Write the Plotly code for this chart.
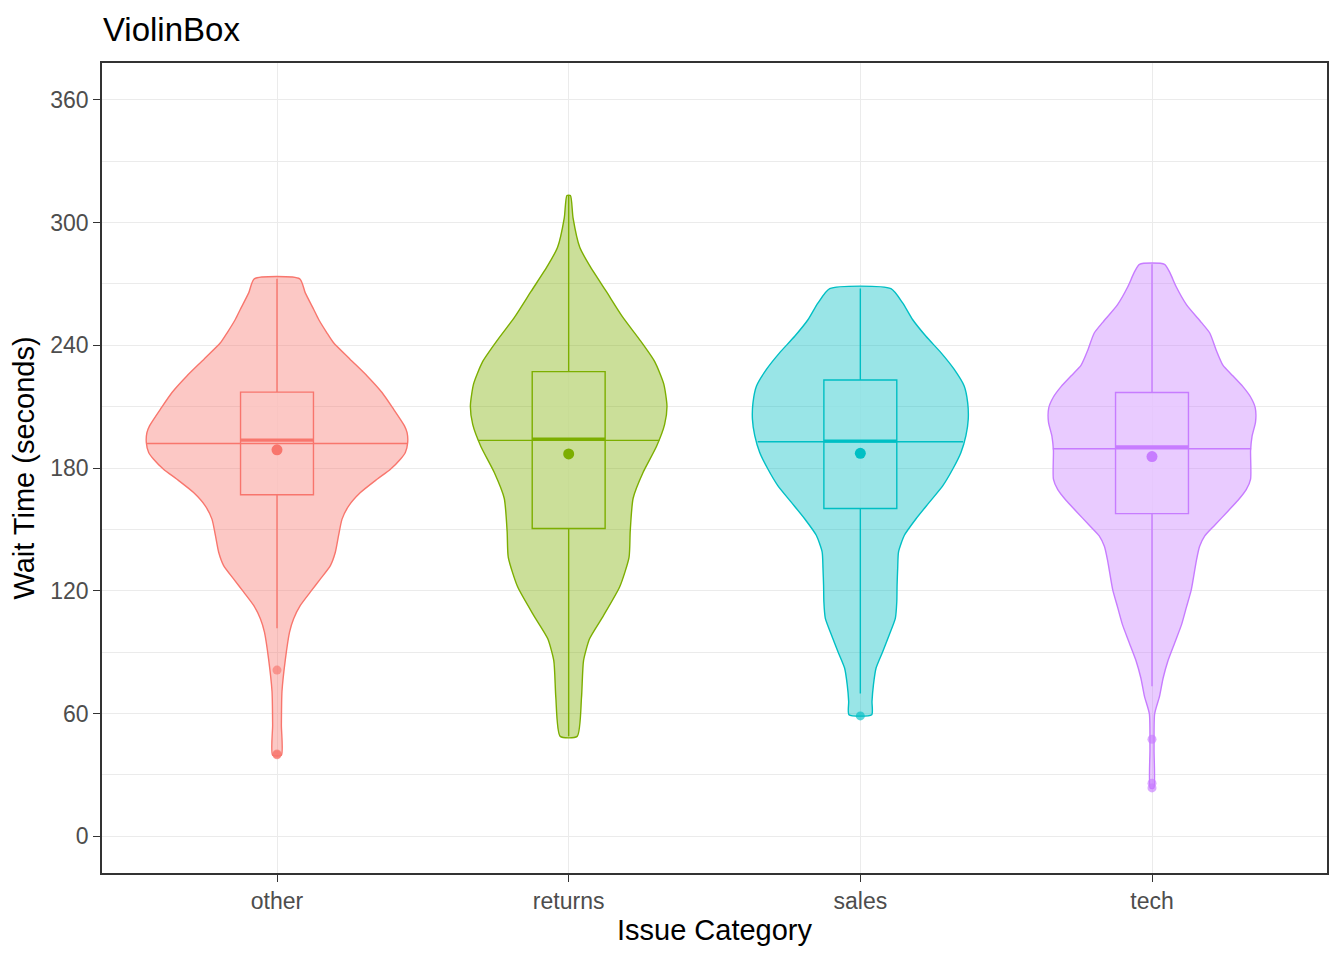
import plotly.graph_objects as go

# categories and colours (ggplot default hue)
categories = ["other", "returns", "sales", "tech"]
positions = [1, 2, 3, 4]
colors = ["#F8766D", "#7CAE00", "#00BFC4", "#C77CFF"]
fills = ["rgba(248,118,109,0.4)", "rgba(124,174,0,0.4)",
         "rgba(0,191,196,0.4)", "rgba(199,124,255,0.4)"]

# violin outlines: wait time (s) and half width (category units)
other_y = [272.5, 265.6, 257.5, 252.6, 246.1, 241.2, 233.1, 225.0, 216.9, 208.7, 203.8,
           200.6, 197.3, 192.4, 187.6, 184.3, 179.4, 174.5, 168.0, 161.5, 155.0, 146.9,
           138.8, 132.3, 125.8, 119.3, 112.8, 106.3, 99.8, 86.8, 70.6, 54.3, 39.6]
other_w = [0.078, 0.097, 0.126, 0.143, 0.171, 0.194, 0.251, 0.309, 0.360, 0.400, 0.423,
           0.437, 0.446, 0.448, 0.440, 0.423, 0.389, 0.343, 0.286, 0.246, 0.223, 0.211,
           0.200, 0.183, 0.149, 0.114, 0.080, 0.057, 0.043, 0.029, 0.017, 0.015, 0.015]

returns_y = [313.2, 302.3, 287.9, 278.9, 266.3, 253.6, 242.8, 232.0, 221.1, 210.3, 201.3,
             190.5, 177.8, 165.2, 149.0, 136.3, 121.9, 107.5, 96.6, 85.8, 67.8, 48.8]
returns_w = [0.006, 0.015, 0.038, 0.072, 0.129, 0.186, 0.243, 0.295, 0.326, 0.337, 0.329,
             0.301, 0.255, 0.221, 0.211, 0.207, 0.175, 0.118, 0.072, 0.051, 0.044, 0.029]

sales_y = [267.7, 260.7, 252.6, 244.4, 236.3, 228.2, 220.1, 212.0, 203.9, 195.8, 187.6,
           179.5, 171.4, 163.3, 155.2, 147.1, 139.0, 130.8, 122.7, 114.6, 106.5, 98.4,
           90.3, 82.2, 74.1, 65.9, 59.4]
sales_w = [0.105, 0.145, 0.179, 0.225, 0.277, 0.322, 0.356, 0.368, 0.370, 0.362, 0.345,
           0.317, 0.283, 0.237, 0.191, 0.151, 0.131, 0.128, 0.126, 0.125, 0.120, 0.099,
           0.077, 0.054, 0.045, 0.040, 0.039]

tech_y = [279.6, 275.6, 268.6, 259.9, 251.2, 246.0, 237.3, 230.3, 225.1, 219.9, 214.7,
          209.4, 202.5, 195.5, 188.5, 174.6, 169.4, 164.2, 159.0, 152.0, 146.8, 141.6,
          134.6, 120.7, 112.0, 103.3, 94.6, 85.9, 77.2, 68.5, 59.8, 42.4, 23.5]
tech_w = [0.043, 0.061, 0.083, 0.118, 0.169, 0.198, 0.221, 0.243, 0.277, 0.311, 0.338,
          0.354, 0.355, 0.343, 0.338, 0.338, 0.323, 0.295, 0.261, 0.215, 0.181, 0.163,
          0.152, 0.135, 0.118, 0.101, 0.078, 0.055, 0.038, 0.026, 0.009, 0.007, 0.006]

violin_y = [other_y, returns_y, sales_y, tech_y]
violin_w = [other_w, returns_w, sales_w, tech_w]

# violin median line (draw_quantiles = 0.5): level and half width
quant_y = [192.0, 193.5, 192.8, 189.4]
quant_w = [0.448, 0.311, 0.352, 0.340]

# box plot statistics
q1 = [166.9, 150.4, 160.2, 157.7]
median = [193.6, 194.1, 193.1, 190.3]
q3 = [217.1, 227.1, 223.0, 216.9]
lower_whisker = [101.7, 48.8, 69.7, 73.3]
upper_whisker = [272.5, 313.2, 267.7, 279.6]
means = [188.9, 186.9, 187.2, 185.6]
outliers = [[81.2, 40.2, 39.8], [], [58.8], [47.4, 25.9, 23.6]]

box_width = 0.25
grid = "#EBEBEB"
axis_col = "#333333"

fig = go.Figure()

for i, cat in enumerate(categories):
    p = positions[i]
    ys = violin_y[i]
    ws = violin_w[i]
    vx = [p + w for w in ws] + [p - w for w in ws[::-1]] + [p + ws[0]]
    vy = ys + ys[::-1] + [ys[0]]
    fig.add_trace(go.Scatter(
        x=vx, y=vy, mode="lines", fill="toself", fillcolor=fills[i],
        line=dict(color=colors[i], width=1.4, shape="spline", smoothing=0.6),
        hoverinfo="skip", showlegend=False,
    ))
    # quantile line inside the violin
    fig.add_trace(go.Scatter(
        x=[p - quant_w[i], p + quant_w[i]], y=[quant_y[i], quant_y[i]],
        mode="lines", line=dict(color=colors[i], width=1.4),
        hoverinfo="skip", showlegend=False,
    ))

for i, cat in enumerate(categories):
    p = positions[i]
    fig.add_trace(go.Box(
        x=[p], q1=[q1[i]], median=[median[i]], q3=[q3[i]],
        lowerfence=[lower_whisker[i]], upperfence=[upper_whisker[i]],
        width=box_width, whiskerwidth=0, boxpoints=False,
        fillcolor="rgba(255,255,255,0.75)",
        line=dict(color=colors[i], width=1.4),
        name=cat, showlegend=False,
    ))
    # thick median bar like ggplot's fatten
    fig.add_trace(go.Scatter(
        x=[p - box_width / 2, p + box_width / 2], y=[median[i], median[i]],
        mode="lines", line=dict(color=colors[i], width=3.2),
        hoverinfo="skip", showlegend=False,
    ))
    if outliers[i]:
        fig.add_trace(go.Scatter(
            x=[p] * len(outliers[i]), y=outliers[i], mode="markers",
            marker=dict(color=colors[i], size=9, opacity=0.65),
            showlegend=False,
        ))
    fig.add_trace(go.Scatter(
        x=[p], y=[means[i]], mode="markers",
        marker=dict(color=colors[i], size=11),
        showlegend=False,
    ))

# page body has an 8px margin, so the figure is a bit smaller than the window
fig.update_layout(
    width=1328, height=944,
    paper_bgcolor="white", plot_bgcolor="white",
    margin=dict(l=94, r=7, t=55, b=79),
    font=dict(family="Liberation Sans, Arial, sans-serif", color="#000000"),
    title=dict(text="ViolinBox", x=0.0715, xanchor="left", xref="container",
               y=0.977, yanchor="middle", yref="container",
               font=dict(size=33, color="#000000")),
    showlegend=False,
)

fig.update_xaxes(
    range=[0.4, 4.6], tickmode="array", tickvals=positions, ticktext=categories,
    showgrid=True, gridcolor=grid, gridwidth=1.2, zeroline=False,
    showline=True, mirror=True, linecolor=axis_col, linewidth=1.6,
    ticks="outside", ticklen=7, tickcolor=axis_col, tickwidth=1.3,
    tickfont=dict(size=23, color="#4D4D4D"),
    title=dict(text="Issue Category", font=dict(size=29, color="#000000"), standoff=6),
)

fig.update_yaxes(
    range=[-18, 378], tickmode="array", tickvals=[0, 60, 120, 180, 240, 300, 360],
    showgrid=True, gridcolor=grid, gridwidth=1.2, zeroline=False,
    minor=dict(tickmode="array", tickvals=[30, 90, 150, 210, 270, 330],
               showgrid=True, gridcolor=grid, gridwidth=0.6),
    showline=True, mirror=True, linecolor=axis_col, linewidth=1.6,
    ticks="outside", ticklen=7, tickcolor=axis_col, tickwidth=1.3,
    tickfont=dict(size=23, color="#4D4D4D"),
    title=dict(text="Wait Time (seconds)", font=dict(size=29, color="#000000"), standoff=8),
)

fig.write_html("out.html")
